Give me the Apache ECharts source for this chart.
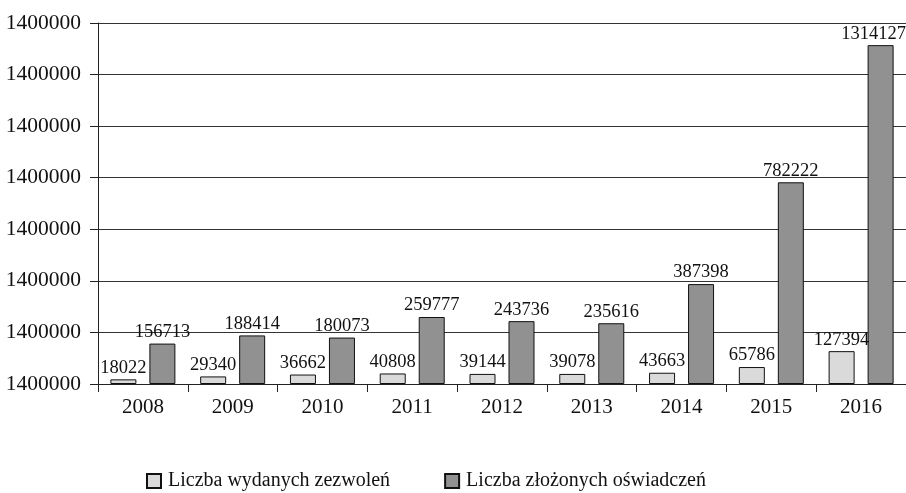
<!DOCTYPE html>
<html><head><meta charset="utf-8">
<script src="https://cdn.jsdelivr.net/npm/echarts@6/dist/echarts.min.js"></script>
<style>html,body{margin:0;padding:0;background:#fff}#c{width:906px;height:493px}</style>
</head><body><div id="c"></div>
<script>
const categories = ['2008','2009','2010','2011','2012','2013','2014','2015','2016'];
const seriesNames = ['Liczba wydanych zezwoleń','Liczba złożonych oświadczeń'];
const permits = [18022,29340,36662,40808,39144,39078,43663,65786,127394];
const declarations = [156713,188414,180073,259777,243736,235616,387398,782222,1314127];
const yTickLabel = '1400000';
const font = 'Liberation Serif, Times New Roman, serif';
const chart = echarts.init(document.getElementById('c'));
const lastIdx = declarations.length - 1;
chart.setOption({
  animation:false,
  textStyle:{fontFamily:font},
  grid:{left:98,right:0,top:23,bottom:109},
  legend:{top:466,left:141,itemWidth:14,itemHeight:14,itemGap:54,icon:'rect',
    textStyle:{fontFamily:font,fontSize:20,color:'#111',padding:[0,0,0,2]},
    data:seriesNames},
  xAxis:{type:'category',data:categories,
    axisLine:{lineStyle:{color:'#222',width:1}},
    axisTick:{show:true,length:8,lineStyle:{color:'#222'}},
    axisLabel:{fontFamily:font,fontSize:21,color:'#111',margin:13}},
  yAxis:{type:'value',min:0,max:1400000,interval:200000,
    axisLine:{show:true,lineStyle:{color:'#222'}},
    axisTick:{show:true,length:8,lineStyle:{color:'#222'}},
    splitLine:{lineStyle:{color:'#333',width:1}},
    axisLabel:{fontFamily:font,fontSize:21.5,color:'#111',margin:17,formatter:()=>yTickLabel}},
  series:[
    {name:seriesNames[0],type:'bar',data:permits,barWidth:26,barGap:'50%',
     itemStyle:{color:'#dadada',borderColor:'#111',borderWidth:1},
     label:{show:true,position:'top',distance:2,fontFamily:font,fontSize:18.5,color:'#111'}},
    {name:seriesNames[1],type:'bar',
     data:declarations.map((v,i)=>i===lastIdx?{value:v,label:{offset:[-7,0]}}:v),
     barWidth:26,
     itemStyle:{color:'#919191',borderColor:'#111',borderWidth:1},
     label:{show:true,position:'top',distance:2,fontFamily:font,fontSize:18.5,color:'#111'}}
  ]
});
</script></body></html>
